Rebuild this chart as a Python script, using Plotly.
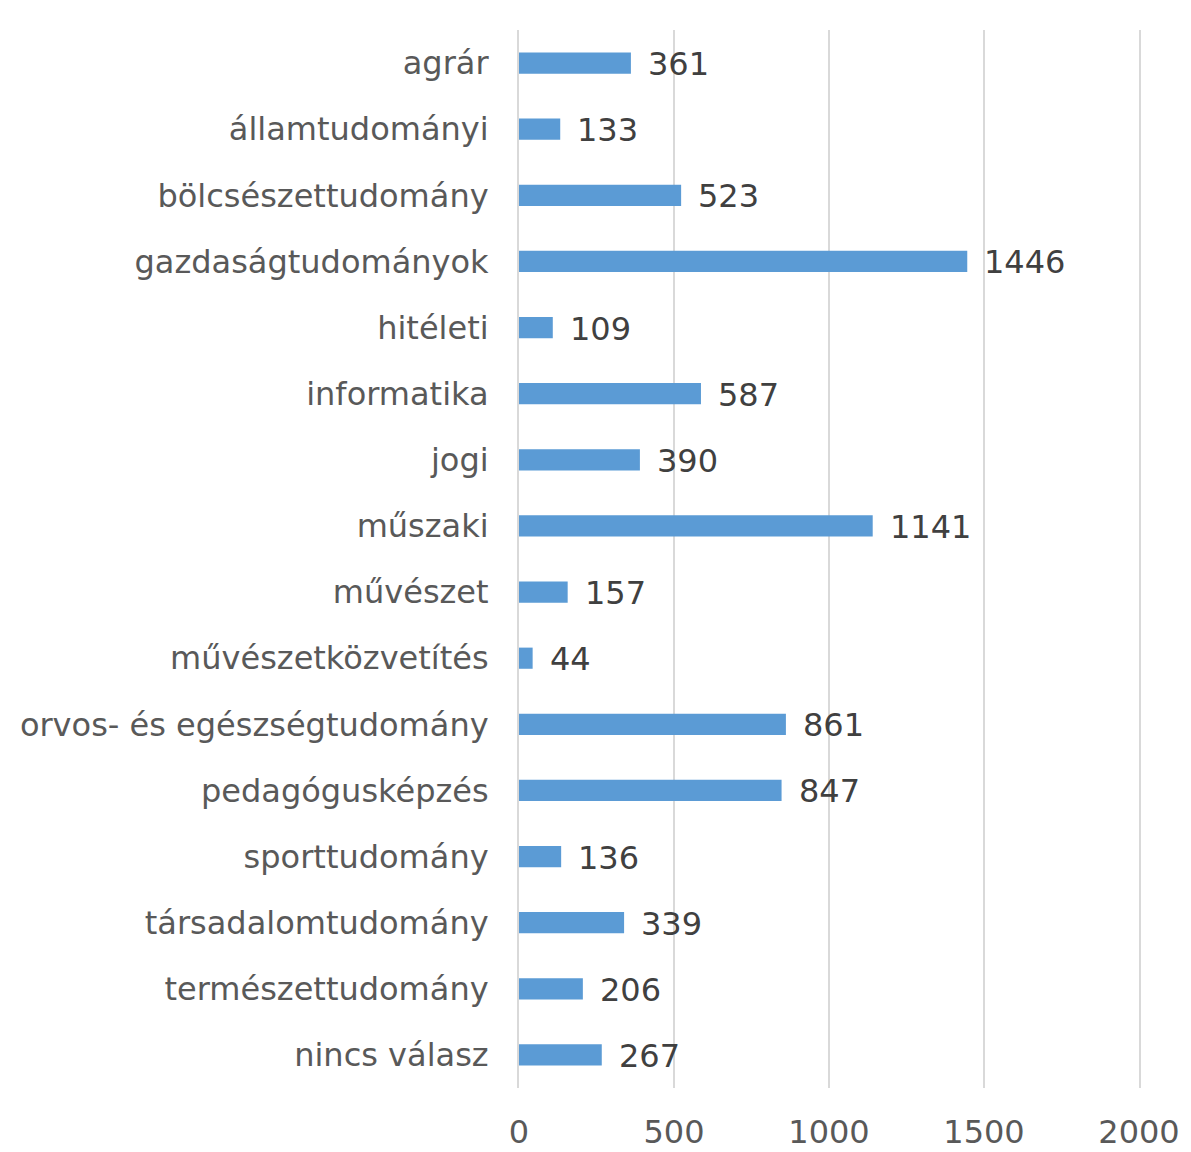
import plotly.graph_objects as go

CATEGORIES = [
    "agrár", "államtudományi", "bölcsészettudomány", "gazdaságtudományok",
    "hitéleti", "informatika", "jogi", "műszaki", "művészet",
    "művészetközvetítés", "orvos- és egészségtudomány", "pedagógusképzés",
    "sporttudomány", "társadalomtudomány", "természettudomány", "nincs válasz",
]
VALUES = [361, 133, 523, 1446, 109, 587, 390, 1141, 157, 44, 861, 847, 136, 339, 206, 267]
X_TICKS = [0, 500, 1000, 1500, 2000]

BAR_COLOR = "#5B9BD5"
GRID_COLOR = "#D9D9D9"
LABEL_COLOR = "#595959"
VALUE_COLOR = "#404040"
FONT = "Verdana, DejaVu Sans, sans-serif"
FONT_SIZE = 32

fig = go.Figure(go.Bar(
    x=VALUES,
    y=CATEGORIES,
    orientation="h",
    marker_color=BAR_COLOR,
    marker_line_width=0,
    hoverinfo="skip",
))

# value labels sit a bit further from the bar end than plotly's "outside" text
for cat, val in zip(CATEGORIES, VALUES):
    fig.add_annotation(x=val, y=cat, text=str(val), showarrow=False,
                       xanchor="left", xshift=15, yshift=-1,
                       font=dict(family=FONT, size=FONT_SIZE, color=VALUE_COLOR))

fig.update_layout(
    width=1191, height=1152,
    margin=dict(l=519, r=52, t=30, b=64, autoexpand=False),
    plot_bgcolor="white", paper_bgcolor="white",
    bargap=0.68,
    showlegend=False,
    font=dict(family=FONT, size=FONT_SIZE, color=LABEL_COLOR),
    xaxis=dict(
        range=[0, 2000], tickvals=X_TICKS, showgrid=True, gridcolor=GRID_COLOR,
        gridwidth=2, zeroline=False, showline=False, ticklabelstandoff=22,
        automargin=False, tickfont=dict(size=FONT_SIZE, color=LABEL_COLOR),
    ),
    yaxis=dict(
        # y axis line + mirror stand in for the 0 and 2000 gridlines at the edges
        autorange="reversed", showgrid=False, zeroline=False,
        showline=True, mirror=True, linecolor=GRID_COLOR, linewidth=2,
        automargin=False, ticklabelstandoff=22,
        tickfont=dict(size=FONT_SIZE, color=LABEL_COLOR),
    ),
)

# drop the default 8px body margin so the figure fills the window exactly
fig.write_html("out.html", config={"displayModeBar": False},
               post_script="document.body.style.margin = '0';")
